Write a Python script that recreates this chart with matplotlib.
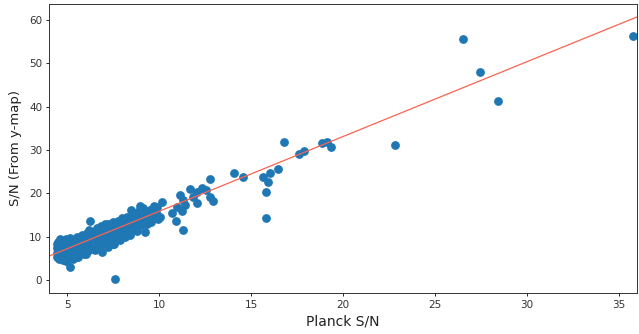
import numpy as np
import matplotlib
matplotlib.use("Agg")
import matplotlib.pyplot as plt

# Dense cluster + outliers (Planck S/N, S/N from y-map)
planck_sn = [
    4.45, 4.45, 4.45, 4.45, 4.5, 4.5, 4.5, 4.55, 4.55, 4.6, 4.6, 4.6, 4.65, 4.65,
    4.7, 4.7, 4.75, 4.8, 4.8, 4.85, 4.85, 4.9, 4.9, 4.95, 4.95, 5.0, 5.0, 5.0,
    5.05, 5.1, 5.1, 5.15, 5.15, 5.2, 5.2, 5.25, 5.3, 5.3, 5.35, 5.4, 5.4, 5.45,
    5.5, 5.5, 5.55, 5.6, 5.6, 5.65, 5.7, 5.75, 5.8, 5.8, 5.85, 5.9, 5.95, 6.0,
    6.0, 6.05, 6.1, 6.1, 6.15, 6.2, 6.2, 6.25, 6.3, 6.3, 6.35, 6.4, 6.4, 6.45,
    6.5, 6.55, 6.6, 6.6, 6.65, 6.7, 6.75, 6.8, 6.8, 6.85, 6.88, 6.9, 6.95, 7.0,
    7.0, 7.05, 7.1, 7.1, 7.15, 7.2, 7.25, 7.3, 7.3, 7.35, 7.4, 7.45, 7.5, 7.5,
    7.55, 7.6, 7.65, 7.7, 7.75, 7.8, 7.8, 7.85, 7.9, 7.95, 8.0, 8.0, 8.05, 8.1,
    8.15, 8.2, 8.25, 8.3, 8.35, 8.4, 8.45, 8.46, 8.5, 8.55, 8.6, 8.65, 8.7, 8.75,
    8.8, 8.85, 8.9, 8.97, 9.0, 9.05, 9.1, 9.15, 9.24, 9.3, 9.35, 9.42, 9.5, 9.55,
    9.6, 9.65, 9.73, 9.8, 9.9, 9.95, 10.05, 10.14,
    4.9, 5.3, 5.6, 6.0, 6.5, 7.2, 7.48, 4.62, 5.16, 7.57,
    10.67, 10.9, 10.96, 11.14, 11.23, 11.3, 11.32, 11.41, 11.65, 11.83, 12.05,
    12.05, 12.35, 12.54, 12.75, 12.77, 12.93, 14.06, 14.58, 15.67, 15.8, 15.8,
    15.9, 16.03, 16.49, 16.78, 17.6, 17.88, 18.84, 19.11, 19.33, 22.83, 26.56,
    27.48, 28.46, 35.8,
]
ymap_sn = [
    5.2, 6.3, 7.4, 8.3, 5.8, 6.9, 8.8, 4.9, 7.9, 6.0, 7.1, 9.1, 5.4, 8.4,
    6.6, 7.6, 4.6, 5.7, 8.9, 6.3, 7.3, 5.1, 8.1, 6.8, 9.4, 4.3, 5.9, 7.7,
    8.6, 6.4, 5.2, 7.2, 9.7, 5.6, 8.2, 6.8, 4.8, 7.6, 9.1, 6.1, 8.7, 5.4,
    7.0, 9.9, 6.5, 8.1, 5.8, 9.4, 7.4, 6.2, 8.8, 10.3, 7.0, 6.0, 9.6, 7.9,
    6.6, 10.8, 8.5, 7.2, 11.5, 9.2, 6.9, 13.6, 7.8, 10.1, 8.7, 7.3, 11.0, 9.5,
    8.1, 10.4, 7.5, 12.0, 9.0, 8.4, 11.3, 9.8, 7.9, 12.5, 6.5, 10.6, 8.8, 11.8,
    9.3, 12.8, 10.2, 8.2, 11.1, 12.9, 9.6, 10.8, 8.7, 12.2, 11.4, 9.2, 13.3, 10.5,
    8.3, 12.0, 11.0, 9.7, 13.6, 10.9, 12.5, 9.3, 11.7, 14.2, 10.4, 12.9, 11.5, 13.6,
    9.8, 12.2, 14.5, 11.0, 13.1, 10.4, 12.4, 16.2, 14.0, 11.6, 15.4, 13.2, 12.0, 14.8,
    11.2, 13.8, 15.9, 17.1, 12.6, 14.3, 16.5, 13.5, 11.0, 15.1, 12.8, 14.6, 16.2, 13.3,
    16.3, 14.9, 17.1, 15.6, 16.8, 14.1, 14.6, 18.1,
    4.4, 5.0, 5.2, 6.0, 6.9, 7.7, 8.2, 9.4, 2.9, 0.15,
    15.4, 13.6, 16.9, 19.5, 15.8, 11.5, 18.5, 17.3, 21.0, 19.2, 20.2,
    17.7, 21.3, 20.8, 23.2, 19.2, 18.3, 24.7, 23.7, 23.8, 20.2, 14.3,
    22.5, 24.6, 25.5, 31.8, 29.0, 29.8, 31.5, 31.9, 30.8, 31.1, 55.6,
    48.0, 41.4, 56.4,
]

# Linear fit shown as red line
fit_x = [4.0, 36.0]
fit_slope = 1.725
fit_intercept = -1.4

fig = plt.figure(figsize=(6.39, 3.34), dpi=100)
ax = fig.add_axes([0.0767, 0.123, 0.920, 0.865])
ax.scatter(planck_sn, ymap_sn, s=28, color="#1f77b4")
fx = np.array(fit_x)
ax.plot(fx, np.polyval([fit_slope, fit_intercept], fx), color="#fa6450", linewidth=0.9)

ax.set_xlim(4.0, 36.0)
ax.set_ylim(-3.0, 63.7)
ax.set_xticks([5, 10, 15, 20, 25, 30, 35])
ax.set_yticks([0, 10, 20, 30, 40, 50, 60])
ax.tick_params(labelsize=7.5, length=2.5, width=0.6, pad=2.5, labelcolor="#333333")
for sp in ax.spines.values():
    sp.set_linewidth(0.7)
    sp.set_color("#333333")
ax.set_xlabel("Planck S/N", fontsize=10, color="#222222", labelpad=3)
ax.set_ylabel("S/N (From y-map)", fontsize=9.5, color="#222222", labelpad=5)

fig.savefig("out.png", dpi=100)
